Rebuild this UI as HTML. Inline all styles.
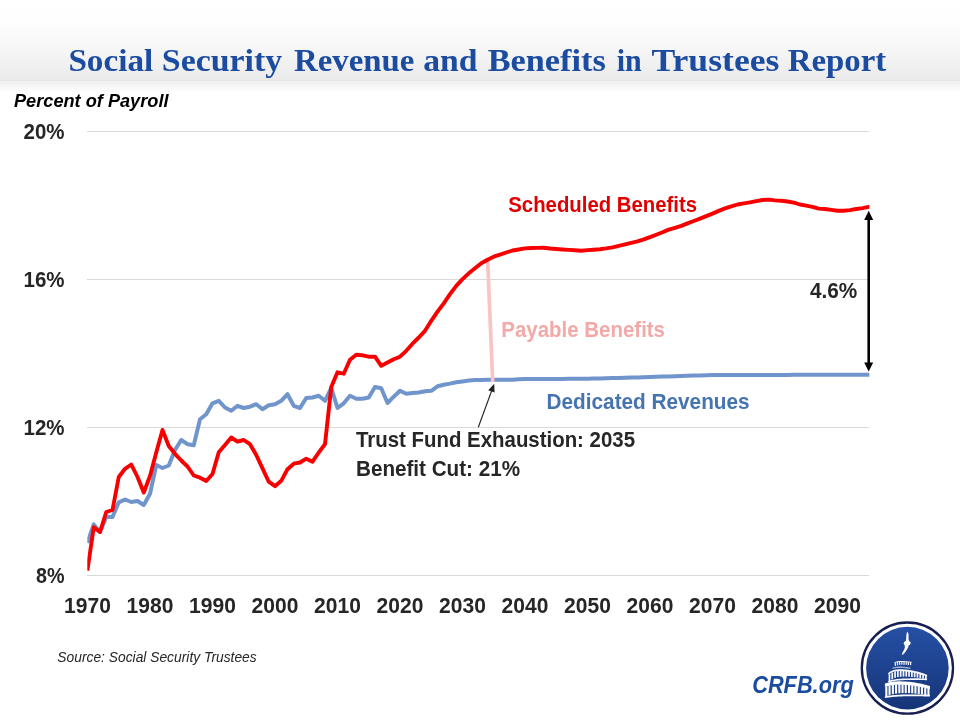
<!DOCTYPE html>
<html lang="en"><head><meta charset="utf-8"><title>Social Security Revenue and Benefits in Trustees Report</title>
<style>html,body{margin:0;padding:0;background:#fff;}body{width:960px;height:720px;overflow:hidden;}svg{display:block;}</style>
</head><body>
<svg width="960" height="720" viewBox="0 0 960 720">
<defs>
<linearGradient id="hdr" x1="0" y1="0" x2="0" y2="1"><stop offset="0" stop-color="#ffffff"/><stop offset="0.25" stop-color="#fefefe"/><stop offset="0.62" stop-color="#f6f6f6"/><stop offset="1" stop-color="#eaeaea"/></linearGradient>
<linearGradient id="shd" x1="0" y1="0" x2="0" y2="1"><stop offset="0" stop-color="#efefef"/><stop offset="0.5" stop-color="#f8f8f8"/><stop offset="1" stop-color="#ffffff"/></linearGradient>
<linearGradient id="logo" x1="0" y1="0" x2="0" y2="1"><stop offset="0" stop-color="#2550a5"/><stop offset="1" stop-color="#173478"/></linearGradient>
<clipPath id="plot"><rect x="87.3" y="100" width="782" height="500"/></clipPath>
</defs>
<rect x="0" y="0" width="960" height="720" fill="#ffffff"/>
<rect x="0" y="0" width="960" height="80.5" fill="url(#hdr)"/>
<rect x="0" y="80.3" width="960" height="1.2" fill="#e0e0e0"/>
<rect x="0" y="81.5" width="960" height="12" fill="url(#shd)"/>
<text y="71" font-family="'Liberation Serif', serif" font-size="32" font-weight="bold" fill="#1c4ca0"><tspan x="68.4" textLength="84.8" lengthAdjust="spacingAndGlyphs">Social</tspan> <tspan x="161.8" textLength="120.4" lengthAdjust="spacingAndGlyphs">Security</tspan> <tspan x="294.0" textLength="120.3" lengthAdjust="spacingAndGlyphs">Revenue</tspan> <tspan x="423.2" textLength="54.3" lengthAdjust="spacingAndGlyphs">and</tspan> <tspan x="487.7" textLength="118.1" lengthAdjust="spacingAndGlyphs">Benefits</tspan> <tspan x="616.7" textLength="25.0" lengthAdjust="spacingAndGlyphs">in</tspan> <tspan x="651.4" textLength="128.0" lengthAdjust="spacingAndGlyphs">Trustees</tspan> <tspan x="787.7" textLength="98.5" lengthAdjust="spacingAndGlyphs">Report</tspan></text>
<text x="14" y="106.7" font-family="'Liberation Sans', sans-serif" font-size="18" font-weight="bold" font-style="italic" fill="#000000" text-anchor="start" textLength="154.5" lengthAdjust="spacingAndGlyphs">Percent of Payroll</text>
<rect x="87" y="131" width="782" height="1" fill="#d9d9d9"/>
<rect x="87" y="279" width="782" height="1" fill="#d9d9d9"/>
<rect x="87" y="427" width="782" height="1" fill="#d9d9d9"/>
<rect x="87" y="575" width="782" height="1" fill="#d9d9d9"/>
<text x="64.5" y="138.7" font-family="'Liberation Sans', sans-serif" font-size="22" font-weight="bold" font-style="normal" fill="#262626" text-anchor="end" textLength="41" lengthAdjust="spacingAndGlyphs">20%</text>
<text x="64.5" y="286.7" font-family="'Liberation Sans', sans-serif" font-size="22" font-weight="bold" font-style="normal" fill="#262626" text-anchor="end" textLength="41" lengthAdjust="spacingAndGlyphs">16%</text>
<text x="64.5" y="434.7" font-family="'Liberation Sans', sans-serif" font-size="22" font-weight="bold" font-style="normal" fill="#262626" text-anchor="end" textLength="41" lengthAdjust="spacingAndGlyphs">12%</text>
<text x="64.5" y="582.7" font-family="'Liberation Sans', sans-serif" font-size="22" font-weight="bold" font-style="normal" fill="#262626" text-anchor="end" textLength="28.5" lengthAdjust="spacingAndGlyphs">8%</text>
<text x="87.5" y="613.3" font-family="'Liberation Sans', sans-serif" font-size="22" font-weight="bold" font-style="normal" fill="#262626" text-anchor="middle" textLength="46.8" lengthAdjust="spacingAndGlyphs">1970</text>
<text x="150.0" y="613.3" font-family="'Liberation Sans', sans-serif" font-size="22" font-weight="bold" font-style="normal" fill="#262626" text-anchor="middle" textLength="46.8" lengthAdjust="spacingAndGlyphs">1980</text>
<text x="212.5" y="613.3" font-family="'Liberation Sans', sans-serif" font-size="22" font-weight="bold" font-style="normal" fill="#262626" text-anchor="middle" textLength="46.8" lengthAdjust="spacingAndGlyphs">1990</text>
<text x="275.0" y="613.3" font-family="'Liberation Sans', sans-serif" font-size="22" font-weight="bold" font-style="normal" fill="#262626" text-anchor="middle" textLength="46.8" lengthAdjust="spacingAndGlyphs">2000</text>
<text x="337.5" y="613.3" font-family="'Liberation Sans', sans-serif" font-size="22" font-weight="bold" font-style="normal" fill="#262626" text-anchor="middle" textLength="46.8" lengthAdjust="spacingAndGlyphs">2010</text>
<text x="400.0" y="613.3" font-family="'Liberation Sans', sans-serif" font-size="22" font-weight="bold" font-style="normal" fill="#262626" text-anchor="middle" textLength="46.8" lengthAdjust="spacingAndGlyphs">2020</text>
<text x="462.5" y="613.3" font-family="'Liberation Sans', sans-serif" font-size="22" font-weight="bold" font-style="normal" fill="#262626" text-anchor="middle" textLength="46.8" lengthAdjust="spacingAndGlyphs">2030</text>
<text x="525.0" y="613.3" font-family="'Liberation Sans', sans-serif" font-size="22" font-weight="bold" font-style="normal" fill="#262626" text-anchor="middle" textLength="46.8" lengthAdjust="spacingAndGlyphs">2040</text>
<text x="587.5" y="613.3" font-family="'Liberation Sans', sans-serif" font-size="22" font-weight="bold" font-style="normal" fill="#262626" text-anchor="middle" textLength="46.8" lengthAdjust="spacingAndGlyphs">2050</text>
<text x="650.0" y="613.3" font-family="'Liberation Sans', sans-serif" font-size="22" font-weight="bold" font-style="normal" fill="#262626" text-anchor="middle" textLength="46.8" lengthAdjust="spacingAndGlyphs">2060</text>
<text x="712.5" y="613.3" font-family="'Liberation Sans', sans-serif" font-size="22" font-weight="bold" font-style="normal" fill="#262626" text-anchor="middle" textLength="46.8" lengthAdjust="spacingAndGlyphs">2070</text>
<text x="775.0" y="613.3" font-family="'Liberation Sans', sans-serif" font-size="22" font-weight="bold" font-style="normal" fill="#262626" text-anchor="middle" textLength="46.8" lengthAdjust="spacingAndGlyphs">2080</text>
<text x="837.5" y="613.3" font-family="'Liberation Sans', sans-serif" font-size="22" font-weight="bold" font-style="normal" fill="#262626" text-anchor="middle" textLength="46.8" lengthAdjust="spacingAndGlyphs">2090</text>
<g clip-path="url(#plot)">
<polyline points="87.38,542.8 87.50,542.5 93.75,524.4 100.00,532.0 106.25,517.0 112.50,517.0 118.75,502.3 125.00,499.5 131.25,502.0 137.50,501.0 143.75,505.0 150.00,493.8 156.25,465.0 162.50,468.0 168.75,465.5 175.00,450.0 181.25,440.0 187.50,444.2 193.75,445.3 200.00,419.2 206.25,414.2 212.50,403.3 218.75,400.8 225.00,407.5 231.25,410.8 237.50,405.8 243.75,408.0 250.00,406.7 256.25,404.2 262.50,409.2 268.75,405.3 275.00,404.2 281.25,400.8 287.50,394.2 293.75,405.8 300.00,408.0 306.25,398.0 312.50,397.5 318.75,395.8 325.00,400.8 331.25,388.0 337.50,408.0 343.75,403.3 350.00,395.8 356.25,398.7 362.50,398.7 368.75,397.5 375.00,387.0 381.25,388.3 387.50,403.0 393.75,396.7 400.00,390.8 406.25,393.8 412.50,393.0 418.75,392.5 425.00,391.2 431.25,390.8 437.50,386.3 443.75,384.7 450.00,383.6 456.25,382.2 462.50,381.4 468.75,380.6 475.00,380.1 481.25,379.9 487.50,379.8 493.75,379.8 500.00,379.8 506.25,379.7 512.50,379.7 518.75,379.2 525.00,379.1 531.25,379.1 537.50,379.1 543.75,379.0 550.00,378.9 556.25,378.9 562.50,378.9 568.75,378.8 575.00,378.8 581.25,378.7 587.50,378.7 593.75,378.6 600.00,378.4 606.25,378.2 612.50,378.1 618.75,377.9 625.00,377.7 631.25,377.6 637.50,377.4 643.75,377.2 650.00,377.0 656.25,376.8 662.50,376.6 668.75,376.4 675.00,376.2 681.25,376.0 687.50,375.8 693.75,375.6 700.00,375.4 706.25,375.2 712.50,375.0 718.75,375.0 725.00,375.0 731.25,375.0 737.50,375.0 743.75,374.9 750.00,374.9 756.25,374.9 762.50,374.9 768.75,374.9 775.00,374.9 781.25,374.9 787.50,374.9 793.75,374.8 800.00,374.8 806.25,374.8 812.50,374.8 818.75,374.8 825.00,374.8 831.25,374.8 837.50,374.8 843.75,374.7 850.00,374.7 856.25,374.7 862.50,374.7 868.75,374.7 870.25,374.7" fill="none" stroke="#7094cc" stroke-width="4.0" stroke-linejoin="round" stroke-linecap="butt"/>
<line x1="487.6" y1="259.7" x2="492.7" y2="382" stroke="#fac4c4" stroke-width="3.7"/>
<polyline points="87.38,570.6 87.50,569.8 93.75,527.3 100.00,532.0 106.25,512.0 112.50,510.0 118.75,477.0 125.00,468.8 131.25,464.5 137.50,477.0 143.75,492.5 150.00,476.0 156.25,452.5 162.50,430.0 168.75,446.0 175.00,453.8 181.25,460.5 187.50,466.5 193.75,475.5 200.00,477.7 206.25,481.0 212.50,474.0 218.75,452.3 225.00,445.0 231.25,437.5 237.50,441.6 243.75,440.0 250.00,444.2 256.25,455.0 262.50,468.3 268.75,481.7 275.00,486.2 281.25,480.8 287.50,469.2 293.75,463.7 300.00,462.5 306.25,458.7 312.50,461.7 318.75,452.5 325.00,444.2 331.25,387.0 337.50,372.3 343.75,373.7 350.00,359.7 356.25,354.7 362.50,355.3 368.75,356.7 375.00,356.7 381.25,365.8 387.50,362.5 393.75,359.2 400.00,356.7 406.25,350.8 412.50,343.7 418.75,337.5 425.00,330.8 431.25,320.8 437.50,311.7 443.75,303.3 450.00,294.2 456.25,285.8 462.50,279.2 468.75,273.3 475.00,268.3 481.25,263.3 487.50,259.7 493.75,256.7 500.00,254.7 506.25,252.5 512.50,250.5 518.75,249.5 525.00,248.4 531.25,248.0 537.50,247.9 543.75,247.8 550.00,248.5 556.25,249.0 562.50,249.5 568.75,249.9 575.00,250.3 581.25,250.8 587.50,250.1 593.75,249.7 600.00,249.3 606.25,248.4 612.50,247.3 618.75,245.9 625.00,244.4 631.25,242.8 637.50,241.3 643.75,239.4 650.00,237.1 656.25,234.7 662.50,232.3 668.75,229.6 675.00,227.8 681.25,225.9 687.50,223.4 693.75,221.0 700.00,218.6 706.25,216.1 712.50,213.6 718.75,210.9 725.00,208.4 731.25,206.4 737.50,204.5 743.75,203.4 750.00,202.3 756.25,201.1 762.50,200.0 768.75,199.6 775.00,200.4 781.25,200.8 787.50,201.5 793.75,202.6 800.00,204.5 806.25,205.6 812.50,206.9 818.75,208.6 825.00,209.0 831.25,209.9 837.50,210.7 843.75,210.7 850.00,210.1 856.25,209.0 862.50,208.1 868.75,206.9 870.25,206.6" fill="none" stroke="#f80000" stroke-width="3.9" stroke-linejoin="round" stroke-linecap="butt"/>
</g>
<line x1="868.7" y1="218" x2="868.7" y2="365" stroke="#000" stroke-width="2.6"/>
<polygon points="868.7,210.8 864.2,220 873.2,220" fill="#000"/>
<polygon points="868.7,371.6 864.2,362.4 873.2,362.4" fill="#000"/>
<line x1="478.3" y1="427.3" x2="492.5" y2="388.5" stroke="#222" stroke-width="1.1"/>
<polygon points="494.2,383.8 488.2,390.2 494.6,392.6" fill="#222"/>
<text x="508.3" y="212" font-family="'Liberation Sans', sans-serif" font-size="22" font-weight="bold" font-style="normal" fill="#e00000" text-anchor="start" textLength="188.7" lengthAdjust="spacingAndGlyphs">Scheduled Benefits</text>
<text x="501.3" y="336.5" font-family="'Liberation Sans', sans-serif" font-size="22" font-weight="bold" font-style="normal" fill="#f4a9a9" text-anchor="start" textLength="163.7" lengthAdjust="spacingAndGlyphs">Payable Benefits</text>
<text x="546.6" y="408.9" font-family="'Liberation Sans', sans-serif" font-size="22" font-weight="bold" font-style="normal" fill="#4674b0" text-anchor="start" textLength="203" lengthAdjust="spacingAndGlyphs">Dedicated Revenues</text>
<text x="810" y="298" font-family="'Liberation Sans', sans-serif" font-size="22" font-weight="bold" font-style="normal" fill="#262626" text-anchor="start" textLength="47.3" lengthAdjust="spacingAndGlyphs">4.6%</text>
<text x="356" y="447.3" font-family="'Liberation Sans', sans-serif" font-size="22" font-weight="bold" font-style="normal" fill="#262626" text-anchor="start" textLength="279" lengthAdjust="spacingAndGlyphs">Trust Fund Exhaustion: 2035</text>
<text x="356" y="476" font-family="'Liberation Sans', sans-serif" font-size="22" font-weight="bold" font-style="normal" fill="#262626" text-anchor="start" textLength="164" lengthAdjust="spacingAndGlyphs">Benefit Cut: 21%</text>
<text x="57.3" y="661.9" font-family="'Liberation Sans', sans-serif" font-size="14" font-weight="normal" font-style="italic" fill="#262626" text-anchor="start" textLength="199.4" lengthAdjust="spacingAndGlyphs">Source: Social Security Trustees</text>
<text x="752.2" y="693.2" font-family="'Liberation Sans', sans-serif" font-size="24" font-weight="bold" font-style="italic" fill="#1c4ca0" text-anchor="start" textLength="101.5" lengthAdjust="spacingAndGlyphs">CRFB.org</text>
<circle cx="907.4" cy="668.1" r="45.6" fill="#ffffff" stroke="#161f50" stroke-width="2.3"/>
<circle cx="907.4" cy="668.1" r="41.3" fill="url(#logo)"/>
<g fill="#ffffff">
<path d="M907.5,631.6 L908.6,634.5 L908.5,639.2 L909.2,641.2 L910.8,642.2 L910.2,644.6 L908.6,645.4 L908.2,647.2 L906.8,649.8 L905.0,652.4 L903.4,654.2 L901.8,655.0 L902.6,652.2 L904.2,649.6 L904.9,647.2 L904.6,645.0 L903.6,643.4 L904.4,641.8 L906.0,640.8 L906.3,636.5 L906.6,633.5 Z"/>
<polygon points="894.3,662.2 895.0,661.9 895.7,661.7 896.5,661.5 897.2,661.3 897.9,661.2 898.6,661.1 899.3,661.0 900.1,661.0 900.8,661.0 901.5,661.0 902.2,661.0 903.0,661.1 903.7,661.1 904.4,661.1 905.1,661.2 905.8,661.2 906.6,661.3 907.3,661.3 908.0,661.4 908.7,661.5 909.4,661.5 910.2,661.6 910.9,661.7 911.6,661.8 911.6,662.7 910.9,662.6 910.2,662.5 909.4,662.4 908.7,662.4 908.0,662.3 907.3,662.2 906.6,662.2 905.8,662.1 905.1,662.1 904.4,662.0 903.7,662.0 903.0,662.0 902.2,661.9 901.5,661.9 900.8,661.9 900.1,661.9 899.3,661.9 898.6,662.0 897.9,662.1 897.2,662.2 896.5,662.4 895.7,662.6 895.0,662.8 894.3,663.1" opacity="0.9"/>
<rect x="894.7" y="662.6" width="1.3" height="3.3" opacity="0.9"/>
<rect x="896.9" y="662.0" width="1.3" height="3.2" opacity="0.9"/>
<rect x="899.0" y="661.6" width="1.3" height="3.2" opacity="0.9"/>
<rect x="901.2" y="661.6" width="1.3" height="3.1" opacity="0.9"/>
<rect x="903.4" y="661.7" width="1.3" height="3.1" opacity="0.9"/>
<rect x="905.6" y="661.8" width="1.3" height="3.0" opacity="0.9"/>
<rect x="907.7" y="662.0" width="1.3" height="3.0" opacity="0.9"/>
<rect x="909.9" y="662.2" width="1.3" height="2.9" opacity="0.9"/>
<polygon points="892.6,667.6 893.3,667.4 894.1,667.2 894.8,667.0 895.6,666.9 896.3,666.8 897.1,666.7 897.8,666.6 898.6,666.6 899.3,666.6 900.1,666.6 900.8,666.6 901.5,666.6 902.3,666.7 903.0,666.7 903.8,666.8 904.5,666.8 905.3,666.9 906.0,667.0 906.8,667.1 907.5,667.1 908.3,667.2 909.0,667.4 909.8,667.5 910.5,667.6 910.5,668.9 909.8,668.8 909.0,668.7 908.3,668.5 907.5,668.4 906.8,668.4 906.0,668.3 905.3,668.2 904.5,668.1 903.8,668.1 903.0,668.0 902.3,668.0 901.5,667.9 900.8,667.9 900.1,667.9 899.3,667.9 898.6,667.9 897.8,667.9 897.1,668.0 896.3,668.1 895.6,668.2 894.8,668.3 894.1,668.5 893.3,668.7 892.6,668.9" opacity="0.6"/>
<rect x="893.0" y="668.5" width="0.1" height="0.3" opacity="0.6"/>
<rect x="910.0" y="668.5" width="0.1" height="0.3" opacity="0.6"/>
<polygon points="888.2,672.9 889.8,671.8 891.4,670.9 893.1,670.2 894.7,669.7 896.3,669.4 897.9,669.2 899.5,669.2 901.2,669.2 902.8,669.3 904.4,669.4 906.0,669.6 907.7,669.8 909.3,670.0 910.9,670.3 912.5,670.5 914.1,670.9 915.8,671.2 917.4,671.6 919.0,672.1 920.6,672.5 922.2,673.1 923.9,673.6 925.5,674.2 927.1,674.8 927.1,676.7 925.5,676.1 923.9,675.5 922.2,675.0 920.6,674.4 919.0,674.0 917.4,673.5 915.8,673.1 914.1,672.8 912.5,672.4 910.9,672.2 909.3,671.9 907.7,671.7 906.0,671.5 904.4,671.3 902.8,671.2 901.2,671.1 899.5,671.1 897.9,671.1 896.3,671.3 894.7,671.6 893.1,672.1 891.4,672.8 889.8,673.7 888.2,674.8" opacity="0.95"/>
<rect x="888.6" y="674.2" width="1.7" height="6.9" opacity="0.95"/>
<rect x="891.4" y="672.6" width="1.7" height="6.7" opacity="0.95"/>
<rect x="894.2" y="671.4" width="1.7" height="6.4" opacity="0.95"/>
<rect x="897.0" y="670.9" width="1.7" height="6.2" opacity="0.95"/>
<rect x="899.8" y="670.8" width="1.7" height="6.0" opacity="0.95"/>
<rect x="902.6" y="670.9" width="1.7" height="5.7" opacity="0.95"/>
<rect x="905.4" y="671.1" width="1.7" height="5.5" opacity="0.95"/>
<rect x="908.2" y="671.4" width="1.7" height="5.3" opacity="0.95"/>
<rect x="911.0" y="671.9" width="1.7" height="5.1" opacity="0.95"/>
<rect x="913.8" y="672.4" width="1.7" height="4.8" opacity="0.95"/>
<rect x="916.6" y="673.0" width="1.7" height="4.6" opacity="0.95"/>
<rect x="919.4" y="673.8" width="1.7" height="4.4" opacity="0.95"/>
<rect x="922.2" y="674.6" width="1.7" height="4.1" opacity="0.95"/>
<rect x="925.0" y="675.6" width="1.7" height="3.9" opacity="0.95"/>
<polygon points="888.2,681.0 889.8,680.5 891.4,680.1 893.1,679.7 894.7,679.4 896.3,679.1 897.9,679.0 899.5,678.8 901.2,678.7 902.8,678.6 904.4,678.5 906.0,678.5 907.7,678.4 909.3,678.4 910.9,678.3 912.5,678.3 914.1,678.3 915.8,678.3 917.4,678.3 919.0,678.3 920.6,678.4 922.2,678.4 923.9,678.5 925.5,678.6 927.1,678.7 927.1,680.3 925.5,680.2 923.9,680.1 922.2,680.0 920.6,680.0 919.0,679.9 917.4,679.9 915.8,679.9 914.1,679.9 912.5,679.9 910.9,679.9 909.3,680.0 907.7,680.0 906.0,680.1 904.4,680.1 902.8,680.2 901.2,680.3 899.5,680.4 897.9,680.6 896.3,680.7 894.7,681.0 893.1,681.3 891.4,681.7 889.8,682.1 888.2,682.6" opacity="0.95"/>
<polygon points="884.9,683.6 886.8,683.0 888.6,682.5 890.5,682.1 892.4,681.8 894.3,681.5 896.1,681.4 898.0,681.3 899.9,681.3 901.8,681.4 903.6,681.4 905.5,681.5 907.4,681.7 909.3,681.8 911.1,682.0 913.0,682.3 914.9,682.6 916.8,682.9 918.6,683.2 920.5,683.6 922.4,684.0 924.3,684.4 926.1,684.9 928.0,685.4 929.9,685.9 929.9,689.3 928.0,688.8 926.1,688.3 924.3,687.8 922.4,687.4 920.5,687.0 918.6,686.6 916.8,686.3 914.9,686.0 913.0,685.7 911.1,685.4 909.3,685.2 907.4,685.1 905.5,684.9 903.6,684.8 901.8,684.8 899.9,684.7 898.0,684.7 896.1,684.8 894.3,684.9 892.4,685.2 890.5,685.5 888.6,685.9 886.8,686.4 884.9,687.0" opacity="1.0"/>
<rect x="885.3" y="686.6" width="2.1" height="9.5" opacity="1.0"/>
<rect x="888.5" y="685.6" width="2.1" height="9.3" opacity="1.0"/>
<rect x="891.8" y="685.0" width="2.1" height="9.2" opacity="1.0"/>
<rect x="895.0" y="684.6" width="2.1" height="9.0" opacity="1.0"/>
<rect x="898.3" y="684.4" width="2.1" height="8.8" opacity="1.0"/>
<rect x="901.5" y="684.4" width="2.1" height="8.7" opacity="1.0"/>
<rect x="904.7" y="684.6" width="2.1" height="8.5" opacity="1.0"/>
<rect x="908.0" y="684.8" width="2.1" height="8.3" opacity="1.0"/>
<rect x="911.2" y="685.2" width="2.1" height="8.1" opacity="1.0"/>
<rect x="914.4" y="685.6" width="2.1" height="8.0" opacity="1.0"/>
<rect x="917.7" y="686.1" width="2.1" height="7.8" opacity="1.0"/>
<rect x="920.9" y="686.7" width="2.1" height="7.6" opacity="1.0"/>
<rect x="924.2" y="687.5" width="2.1" height="7.5" opacity="1.0"/>
<rect x="927.4" y="688.3" width="2.1" height="7.3" opacity="1.0"/>
<polygon points="884.9,696.2 886.8,695.9 888.6,695.6 890.5,695.4 892.4,695.2 894.3,695.0 896.1,694.9 898.0,694.8 899.9,694.7 901.8,694.6 903.6,694.5 905.5,694.5 907.4,694.4 909.3,694.4 911.1,694.4 913.0,694.4 914.9,694.4 916.8,694.4 918.6,694.4 920.5,694.4 922.4,694.5 924.3,694.6 926.1,694.6 928.0,694.7 929.9,694.8 929.9,696.6 928.0,696.5 926.1,696.4 924.3,696.4 922.4,696.3 920.5,696.2 918.6,696.2 916.8,696.2 914.9,696.2 913.0,696.2 911.1,696.2 909.3,696.2 907.4,696.2 905.5,696.3 903.6,696.3 901.8,696.4 899.9,696.5 898.0,696.6 896.1,696.7 894.3,696.8 892.4,697.0 890.5,697.2 888.6,697.4 886.8,697.7 884.9,698.0" opacity="1.0"/>
</g>
</svg>
</body></html>
